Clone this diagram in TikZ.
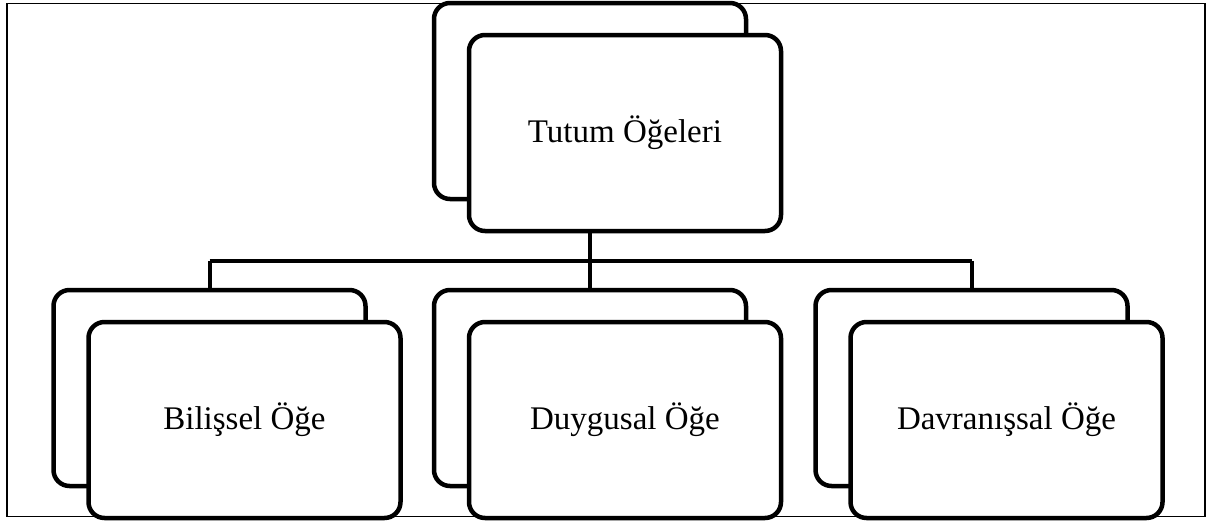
\documentclass[tikz,border=0pt]{standalone}
\usepackage{fontspec}
\setmainfont{Liberation Serif}
\begin{document}
\begin{tikzpicture}[x=1pt,y=-1pt,
  backbox/.style={draw=black,fill=white,line width=4.5pt,rounded corners=16pt,minimum width=312pt,minimum height=196pt,inner sep=0pt},
  frontbox/.style={backbox,font=\fontsize{33}{38}\selectfont},
  conn/.style={draw=black,line width=4pt}]
\useasboundingbox (0,0) rectangle (1209,522);
\node[draw=black,line width=1.5pt,minimum width=1198pt,minimum height=513pt,inner sep=0pt] (frame) at (606,260) {};
% connectors
\coordinate (busm) at (590,261);
\node[backbox] (topback) at (590,101) {};
\node[frontbox] (topfront) at (625,133) {Tutum Öğeleri};
\node[backbox] (leftback) at (209.5,388) {};
\node[backbox] (midback) at (590,388) {};
\node[backbox] (rightback) at (971.5,388) {};
\begin{scope}[on background layer/.try]
\end{scope}
\draw[conn] (topfront.south -| topback.south) -- (midback.north);
\draw[conn] (leftback.north |- busm) -- (rightback.north |- busm);
\draw[conn] (leftback.north |- busm) -- (leftback.north);
\draw[conn] (rightback.north |- busm) -- (rightback.north);
\node[frontbox] (leftfront) at (244.5,420) {Bilişsel Öğe};
\node[frontbox] (midfront) at (625,420) {Duygusal Öğe};
\node[frontbox] (rightfront) at (1006.5,420) {Davranışsal Öğe};
\end{tikzpicture}
\end{document}
